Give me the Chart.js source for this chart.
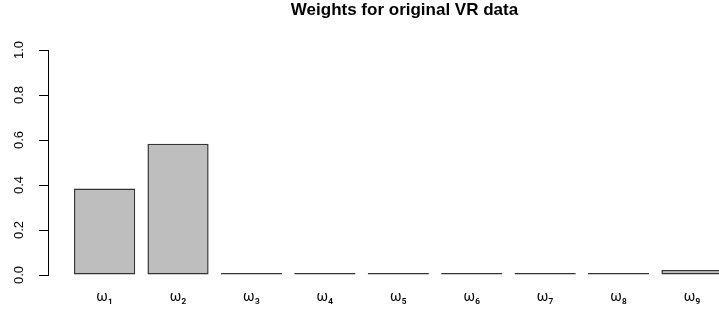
<!DOCTYPE html>
<html>
<head>
<meta charset="utf-8">
<script src="https://cdn.jsdelivr.net/npm/chart.js@4/dist/chart.umd.min.js"></script>
<style>
  html, body { margin: 0; padding: 0; background: #fff; overflow: hidden; }
</style>
</head>
<body>
<canvas id="weights" width="765" height="319"></canvas>
<script>
// weights
const positions = [1, 2, 3, 4, 5, 6, 7, 8, 9];
const weightLabels = ['ω₁', 'ω₂', 'ω₃', 'ω₄', 'ω₅', 'ω₆', 'ω₇', 'ω₈', 'ω₉'];
const weights = [0.384, 0.583, 0.009, 0.002, 0.0005, 0.002, 0.004, 0.002, 0.022];
const yTicks = [0, 0.2, 0.4, 0.6, 0.8, 1.0];

const ctx = document.getElementById('weights').getContext('2d');

new Chart(ctx, {
    type: 'bar',
    data: {
        datasets: [{
            data: positions.map((p, i) => ({ x: p, y: weights[i] })),
            backgroundColor: '#bebebe',
            borderColor: '#333333',
            borderWidth: 1.5,
            borderSkipped: false,
            minBarLength: 2,
            categoryPercentage: 1,
            barPercentage: 1 / 1.2
        }]
    },
    options: {
        responsive: false,
        animation: false,
        layout: { padding: { top: 0, right: 4, bottom: 0, left: 0 } },
        plugins: {
            legend: { display: false },
            tooltip: { enabled: false },
            title: {
                display: true,
                text: 'Weights for original VR data',
                fullSize: false,
                color: '#000',
                font: { family: 'Liberation Sans, Arial, sans-serif', size: 17, weight: 'bold' },
                padding: { top: 0, bottom: 29.6 }
            }
        },
        scales: {
            x: {
                type: 'linear',
                offset: false,
                min: 0.229,
                max: 9.94,
                grid: { display: false, drawTicks: false },
                border: { display: false },
                afterFit: function(scale) { scale.height = 44; },
                afterBuildTicks: function(scale) {
                    scale.ticks = positions.map(p => ({ value: p }));
                },
                ticks: {
                    autoSkip: false,
                    maxRotation: 0,
                    minRotation: 0,
                    padding: 14,
                    color: '#000',
                    font: { family: 'Roboto, sans-serif', size: 14 },
                    callback: function(value) {
                        const i = positions.indexOf(value);
                        return i >= 0 ? weightLabels[i] : '';
                    }
                }
            },
            y: {
                min: 0,
                max: 1,
                afterFit: function(scale) { scale.width = 48; },
                afterBuildTicks: function(scale) {
                    scale.ticks = yTicks.map(v => ({ value: v }));
                },
                grid: {
                    drawOnChartArea: false,
                    drawTicks: true,
                    tickLength: 9,
                    color: '#000'
                },
                border: { display: true, color: '#000' },
                ticks: {
                    minRotation: 90,
                    maxRotation: 90,
                    crossAlign: 'center',
                    padding: 11,
                    color: '#000',
                    font: { family: 'Liberation Sans, Arial, sans-serif', size: 13 },
                    callback: v => v.toFixed(1)
                }
            }
        }
    }
});
</script>
</body>
</html>
